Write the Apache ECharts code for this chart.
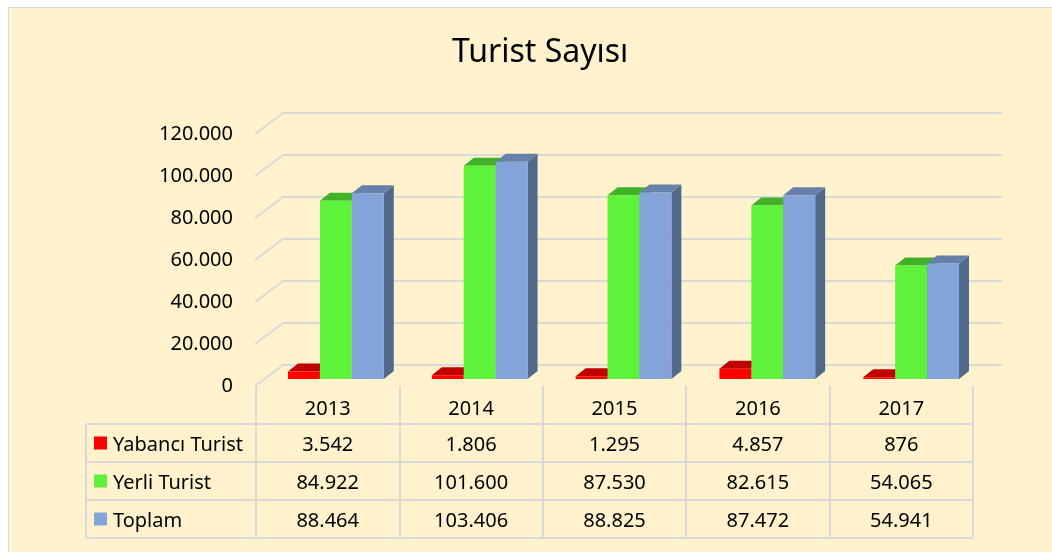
<!DOCTYPE html>
<html>
<head>
<meta charset="utf-8">
<script src="https://cdn.jsdelivr.net/npm/echarts@6/dist/echarts.min.js"></script>
<style>
  html, body { margin: 0; padding: 0; background: #fff; }
  body { position: relative; width: 1052px; height: 552px; overflow: hidden; }
  #frame { position: absolute; left: 8px; top: 7px; width: 1100px; height: 600px;
           background: #FFF2CC; border: 1px solid #D9D9D9; }
  #main { position: absolute; left: 0; top: 0; width: 1052px; height: 552px; }
</style>
</head>
<body>
<div id="frame"></div>
<div id="main"></div>
<script>
var years = ['2013', '2014', '2015', '2016', '2017'];
var seriesNames = ['Yabancı Turist', 'Yerli Turist', 'Toplam'];
var yabanci = [3542, 1806, 1295, 4857, 876];
var yerli = [84922, 101600, 87530, 82615, 54065];
var toplam = [88464, 103406, 88825, 87472, 54941];
var yTicks = [0, 20000, 40000, 60000, 80000, 100000, 120000];

var allValues = [yabanci, yerli, toplam];

// front / top / side shades for the fake 3d bars
var palette = [
  { front: '#FF0000', top: '#C00000', side: '#A00000' },
  { front: '#5EF23A', top: '#43B02A', side: '#3A9A25' },
  { front: '#84A3D8', top: '#6680AA', side: '#52698C' }
];

var FONT = '"Noto Sans", "Open Sans", sans-serif';
var LINE = '#D9D9D9';
var WALL_DX = -28, WALL_DY = 21;   // back wall -> front edge
var BAR_DX = -19, BAR_DY = 14;     // back wall -> bar front face
var DEPTH_X = 10, DEPTH_Y = -8;    // bar depth
var BAR_FRAC = 0.222;
var TABLE_LEFT = 86;
var LABEL_GAP = 22;

function fmt(v) {
  return String(v).replace(/\B(?=(\d{3})+(?!\d))/g, '.');
}

function barRenderer(s) {
  return function (params, api) {
    var c = api.value(0), v = api.value(1);
    var top = api.coord([c, v]);
    var base = api.coord([c, 0]);
    var bw = api.size([1, 0])[0] * BAR_FRAC;
    var x0 = top[0] + BAR_DX + (s - 1.5) * bw;
    var x1 = x0 + bw;
    var yt = top[1] + BAR_DY, yb = base[1] + BAR_DY;
    var col = palette[s];
    return {
      type: 'group',
      children: [
        { type: 'polygon', shape: { points: [[x1, yt], [x1 + DEPTH_X, yt + DEPTH_Y], [x1 + DEPTH_X, yb + DEPTH_Y], [x1, yb]] },
          style: { fill: col.side } },
        { type: 'polygon', shape: { points: [[x0, yt], [x1, yt], [x1 + DEPTH_X, yt + DEPTH_Y], [x0 + DEPTH_X, yt + DEPTH_Y]] },
          style: { fill: col.top } },
        { type: 'rect', shape: { x: x0, y: yt, width: bw, height: yb - yt },
          style: { fill: col.front } }
      ]
    };
  };
}

var barSeries = seriesNames.map(function (name, s) {
  return {
    name: name,
    type: 'custom',
    xAxisIndex: 0, yAxisIndex: 0,
    renderItem: barRenderer(s),
    clip: false,
    z: 3,
    data: allValues[s].map(function (v, i) { return [i, v]; })
  };
});

// side wall grid lines with the value labels at their front ends
var wallSeries = {
  type: 'custom',
  xAxisIndex: 0, yAxisIndex: 0,
  clip: false,
  z: 1,
  silent: true,
  data: yTicks.map(function (t) { return [0, t]; }),
  renderItem: function (params, api) {
    var v = api.value(1);
    var p = api.coord([0, v]);
    var x = params.coordSys.x;
    return {
      type: 'group',
      children: [
        { type: 'line', shape: { x1: x, y1: p[1], x2: x + WALL_DX, y2: p[1] + WALL_DY },
          style: { stroke: LINE, lineWidth: 2 } },
        { type: 'text', x: x + WALL_DX - LABEL_GAP, y: p[1] + WALL_DY,
          style: { text: fmt(v), fill: '#000', fontSize: 20, fontFamily: FONT,
                   align: 'right', verticalAlign: 'middle' } }
      ]
    };
  }
};

// data table cells
var cellData = [];
years.forEach(function (y, c) {
  for (var r = 0; r <= seriesNames.length; r++) cellData.push([c, r]);
});
var cellSeries = {
  type: 'custom',
  xAxisIndex: 1, yAxisIndex: 1,
  clip: false,
  silent: true,
  data: cellData,
  renderItem: function (params, api) {
    var c = api.value(0), r = api.value(1);
    var p = api.coord([c, r]);
    var txt = r === 0 ? years[c] : fmt(allValues[r - 1][c]);
    return { type: 'text', x: p[0], y: p[1] + (r === 0 ? 4 : 2),
             style: { text: txt, fill: '#000', fontSize: 20, fontFamily: FONT,
                      align: 'center', verticalAlign: 'middle' } };
  }
};

// row headers (legend keys) + horizontal table lines
var rowSeries = {
  type: 'custom',
  xAxisIndex: 1, yAxisIndex: 1,
  clip: false,
  silent: true,
  data: seriesNames.map(function (n, i) { return [0, i + 1]; }),
  renderItem: function (params, api) {
    var r = api.value(1);
    var p = api.coord([0, r]);
    var h = api.size([0, 1])[1];
    var cs = params.coordSys;
    var yT = p[1] - h / 2, yB = p[1] + h / 2, xR = cs.x + cs.width;
    var ls = { stroke: LINE, lineWidth: 2 };
    return {
      type: 'group',
      children: [
        { type: 'line', shape: { x1: TABLE_LEFT, y1: yT, x2: xR, y2: yT }, style: ls },
        { type: 'line', shape: { x1: TABLE_LEFT, y1: yB, x2: xR, y2: yB }, style: ls },
        { type: 'line', shape: { x1: TABLE_LEFT, y1: yT, x2: TABLE_LEFT, y2: yB }, style: ls },
        { type: 'rect', shape: { x: TABLE_LEFT + 8, y: p[1] - 6.5, width: 13, height: 13 },
          style: { fill: palette[r - 1].front } },
        { type: 'text', x: TABLE_LEFT + 27, y: p[1] + 2,
          style: { text: seriesNames[r - 1], fill: '#000', fontSize: 20, fontFamily: FONT,
                   align: 'left', verticalAlign: 'middle' } }
      ]
    };
  }
};

var chart = echarts.init(document.getElementById('main'));
chart.setOption({
  backgroundColor: 'transparent',
  animation: false,
  title: {
    text: 'Turist Sayısı',
    left: 447, top: 32,
    textStyle: { fontFamily: FONT, fontSize: 32, fontWeight: 'normal', color: '#000' }
  },
  grid: [
    { left: 283, right: 50, top: 113, bottom: 187 },
    { left: 256, right: 79, top: 386, bottom: 14 }
  ],
  xAxis: [
    { type: 'category', gridIndex: 0, data: years,
      axisLine: { show: false }, axisTick: { show: false }, axisLabel: { show: false },
      splitLine: { show: false } },
    { type: 'category', gridIndex: 1, data: years,
      axisLine: { show: false }, axisTick: { show: false }, axisLabel: { show: false },
      splitLine: { show: true, lineStyle: { color: LINE, width: 2 } } }
  ],
  yAxis: [
    { type: 'value', gridIndex: 0, min: 0, max: 120000, interval: 20000,
      axisLine: { show: false }, axisTick: { show: false }, axisLabel: { show: false },
      splitLine: { show: true, lineStyle: { color: LINE, width: 2 } } },
    { type: 'category', gridIndex: 1, inverse: true, data: [''].concat(seriesNames),
      axisLine: { show: false }, axisTick: { show: false }, axisLabel: { show: false },
      splitLine: { show: false } }
  ],
  series: [wallSeries].concat(barSeries, [cellSeries, rowSeries])
});
</script>
</body>
</html>
